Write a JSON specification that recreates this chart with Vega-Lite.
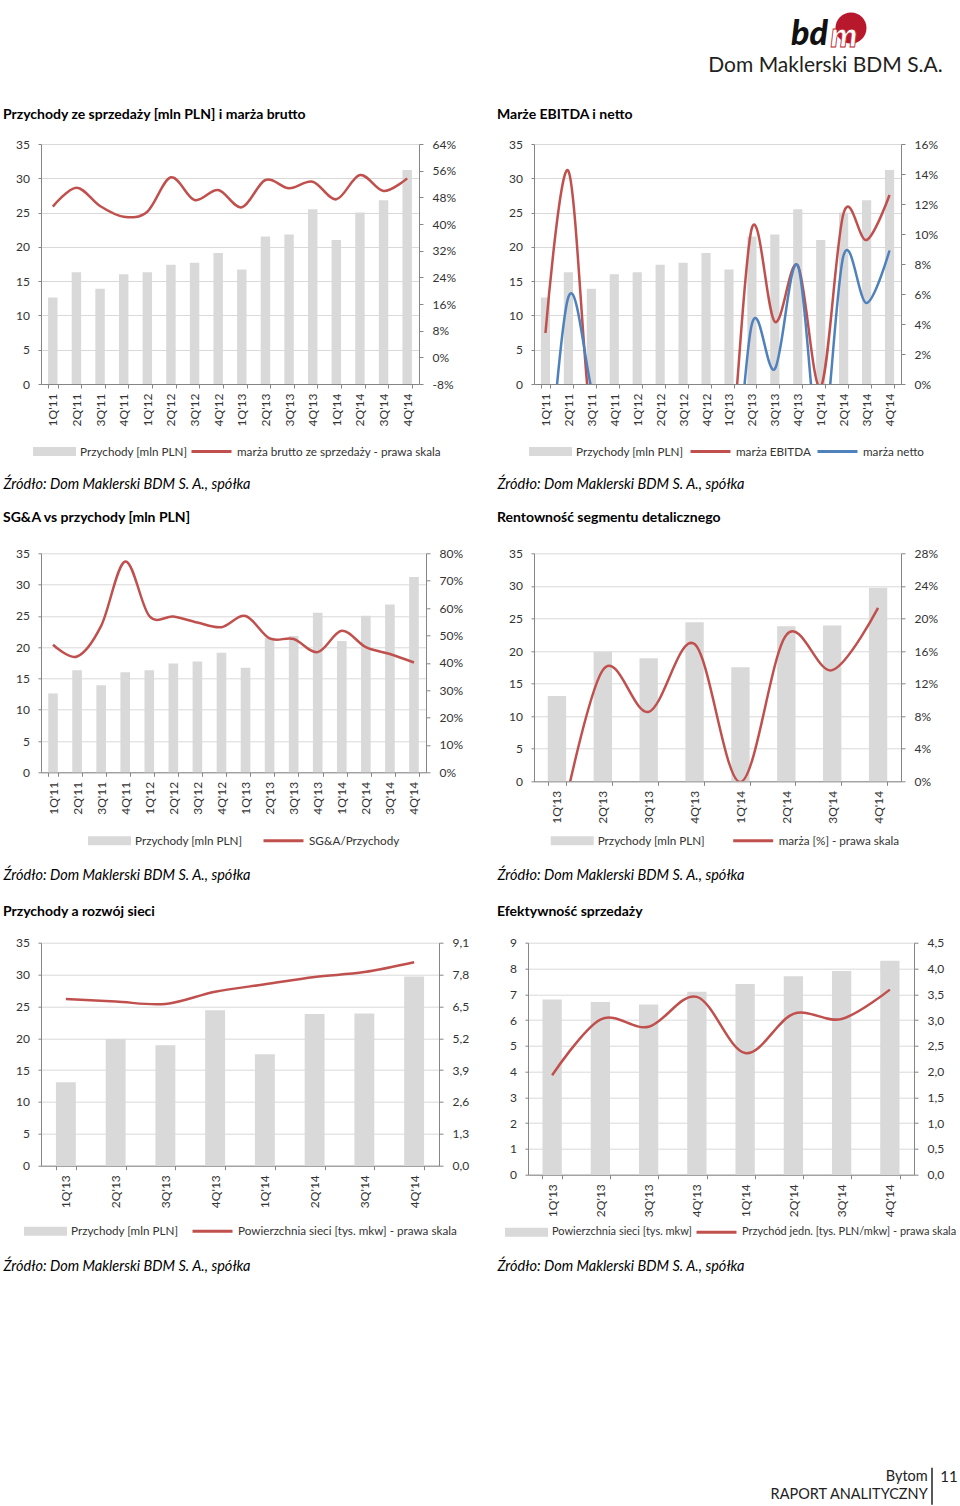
{
  "$schema": "https://vega.github.io/schema/vega-lite/v6.json",
  "padding": {"left": 3, "top": 0, "right": 0, "bottom": 0},
  "background": "white",
  "config": {
    "font": "Lato",
    "view": {"stroke": null},
    "title": {"font": "Lato", "fontSize": 14, "fontWeight": "bold", "color": "#000", "baseline": "alphabetic"},
    "axis": {"labelFont": "Lato", "labelFontSize": 12, "labelColor": "#333", "domainColor": "#868686", "tickColor": "#868686", "gridColor": "#d9d9d9", "titleFont": "Lato", "labelFlush": false, "labelOverlap": false},
    "axisX": {"labelAngle": -90, "tickBand": "extent", "tickSize": 4, "labelPadding": 5, "grid": false, "titleFontSize": 14.5, "titleFontStyle": "italic", "titleFontWeight": "normal", "titleColor": "#000", "titleAlign": "left", "titleBaseline": "alphabetic", "titleAngle": 0},
    "axisLeft": {"tickSize": 3, "labelPadding": 8.5, "grid": true},
    "axisRight": {"tickSize": 4, "labelPadding": 9, "grid": false},
    "legend": {"orient": "none", "direction": "horizontal", "padding": 0, "symbolSize": 1600, "symbolOffset": 0, "labelOffset": 4, "labelFont": "Lato", "labelFontSize": 11.7, "labelColor": "#333", "labelLimit": 0, "gridAlign": "none"}
  },
  "datasets": {
    "q16": [
      {"kw": "1Q'11", "przychody": 12.6, "brutto": 45.2, "marża EBITDA": 3.4, "marża netto": -9, "sga": 46.6},
      {"kw": "2Q'11", "przychody": 16.3, "brutto": 50.9, "marża EBITDA": 14.2, "marża netto": 5.8, "sga": 42.3},
      {"kw": "3Q'11", "przychody": 13.9, "brutto": 45.4, "marża EBITDA": -2.8, "marża netto": -0.3, "sga": 53.5},
      {"kw": "4Q'11", "przychody": 16.0, "brutto": 42.2, "marża EBITDA": -6, "marża netto": -8, "sga": 77.0},
      {"kw": "1Q'12", "przychody": 16.3, "brutto": 43.7, "marża EBITDA": -6, "marża netto": -8, "sga": 57.1},
      {"kw": "2Q'12", "przychody": 17.4, "brutto": 54.0, "marża EBITDA": -6, "marża netto": -8, "sga": 56.9},
      {"kw": "3Q'12", "przychody": 17.7, "brutto": 47.2, "marża EBITDA": -6, "marża netto": -8, "sga": 54.7},
      {"kw": "4Q'12", "przychody": 19.1, "brutto": 50.2, "marża EBITDA": -6, "marża netto": -8, "sga": 53.0},
      {"kw": "1Q'13", "przychody": 16.7, "brutto": 45.0, "marża EBITDA": -5.5, "marża netto": -10.5, "sga": 57.1},
      {"kw": "2Q'13", "przychody": 21.5, "brutto": 53.2, "marża EBITDA": 10.4, "marża netto": 4.0, "sga": 48.9},
      {"kw": "3Q'13", "przychody": 21.8, "brutto": 50.7, "marża EBITDA": 4.15, "marża netto": 1.0, "sga": 48.7},
      {"kw": "4Q'13", "przychody": 25.5, "brutto": 52.7, "marża EBITDA": 7.9, "marża netto": 7.9, "sga": 43.9},
      {"kw": "1Q'14", "przychody": 21.0, "brutto": 47.4, "marża EBITDA": -0.2, "marża netto": -4.5, "sga": 51.7},
      {"kw": "2Q'14", "przychody": 25.0, "brutto": 54.7, "marża EBITDA": 11.4, "marża netto": 8.6, "sga": 45.7},
      {"kw": "3Q'14", "przychody": 26.8, "brutto": 49.9, "marża EBITDA": 9.6, "marża netto": 5.4, "sga": 43.2},
      {"kw": "4Q'14", "przychody": 31.2, "brutto": 53.7, "marża EBITDA": 12.6, "marża netto": 8.9, "sga": 40.1}
    ],
    "q8": [
      {"kw": "1Q'13", "przychody": 13.1, "marza": -7.5, "powierzchnia": 6.8, "jedn": 1.93},
      {"kw": "2Q'13", "przychody": 19.9, "marza": 13.65, "powierzchnia": 6.7, "jedn": 3.01},
      {"kw": "3Q'13", "przychody": 18.9, "marza": 8.53, "powierzchnia": 6.6, "jedn": 2.87},
      {"kw": "4Q'13", "przychody": 24.4, "marza": 16.85, "powierzchnia": 7.1, "jedn": 3.45},
      {"kw": "1Q'14", "przychody": 17.5, "marza": -0.1, "powierzchnia": 7.4, "jedn": 2.36},
      {"kw": "2Q'14", "przychody": 23.8, "marza": 17.96, "powierzchnia": 7.7, "jedn": 3.12},
      {"kw": "3Q'14", "przychody": 23.9, "marza": 13.65, "powierzchnia": 7.9, "jedn": 3.02},
      {"kw": "4Q'14", "przychody": 29.7, "marza": 21.3, "powierzchnia": 8.3, "jedn": 3.59}
    ]
  },
  "spacing": 144,
  "bounds": "flush",
  "resolve": {"scale": {"color": "independent"}, "legend": {"color": "independent"}},
  "vconcat": [
    {
      "hconcat": [
        {"width": 749, "height": 56, "data": {"values": []}, "mark": {"type": "text"}, "encoding": {}},
        {
          "width": 78, "height": 56,
          "data": {"values": [{"part": "bd"}, {"part": "m"}]},
          "title": {"text": "Dom Maklerski BDM S.A.", "orient": "bottom", "anchor": "middle", "frame": "group", "dx": -3.5, "offset": 16, "fontSize": 21, "fontWeight": "normal", "color": "#231f20", "baseline": "alphabetic"},
          "encoding": {"x": {"field": "part", "type": "nominal", "sort": null, "scale": {"type": "band", "domain": ["bd", "m"], "paddingInner": 0, "paddingOuter": 0}, "axis": null}},
          "layer": [
            {"transform": [{"filter": "datum.part === 'm'"}], "mark": {"type": "circle", "size": 960, "color": "#b8182b", "opacity": 1, "xOffset": 2.5}},
            {"transform": [{"filter": "datum.part === 'bd'"}], "mark": {"type": "text", "font": "Lato", "fontSize": 34, "fontWeight": 900, "fontStyle": "italic", "color": "#111", "baseline": "alphabetic", "dy": 17}, "encoding": {"text": {"field": "part"}}},
            {"transform": [{"filter": "datum.part === 'm'"}], "mark": {"type": "text", "font": "Lato", "fontSize": 34, "fontWeight": 900, "fontStyle": "italic", "color": "white", "stroke": "#b8182b", "strokeWidth": 0.8, "baseline": "alphabetic", "dx": -4.5, "dy": 19}, "encoding": {"text": {"field": "part"}}}
          ]
        }
      ],
      "spacing": 0,
      "bounds": "flush",
      "resolve": {"scale": {"color": "independent"}, "legend": {"color": "independent"}}
    },
    {
      "spacing": 409.3,
      "bounds": "flush",
      "resolve": {"scale": {"color": "independent"}, "legend": {"color": "independent"}},
      "vconcat": [
        {
          "spacing": 115,
          "bounds": "flush",
          "resolve": {"scale": {"color": "independent"}, "legend": {"color": "independent"}},
          "hconcat": [
            {
              "width": 378, "height": 240,
              "title": {"text": "Przychody ze sprzedaży [mln PLN] i marża brutto", "anchor": "start", "frame": "group", "dx": -38, "offset": 16},
              "data": {"name": "q16"},
              "encoding": {"x": {"field": "kw", "type": "nominal", "sort": null, "scale": {"paddingInner": 0.6, "paddingOuter": 0.3}, "axis": {"title": "Źródło: Dom Maklerski BDM S. A., spółka", "titleX": -38, "titleY": 104.3}}},
              "layer": [
                {"mark": {"type": "bar"}, "encoding": {
                  "y": {"field": "przychody", "type": "quantitative", "scale": {"domain": [0, 35], "nice": false}, "axis": {"orient": "left", "values": [0, 5, 10, 15, 20, 25, 30, 35], "title": null}},
                  "color": {"datum": "Przychody [mln PLN]", "title": null, "scale": {"domain": ["Przychody [mln PLN]", "marża brutto ze sprzedaży - prawa skala"], "range": ["#d9d9d9", "#c0504d"]},
                    "legend": {"title": null, "legendX": -8, "legendY": 286, "columnPadding": -3,
                      "encode": {"symbols": {"update": {
                        "shape": {"signal": "datum.value === 'Przychody [mln PLN]' ? 'M-1,-0.15H1V0.15H-1Z' : 'M-1,0H1'"},
                        "fill": {"signal": "datum.value === 'Przychody [mln PLN]' ? '#d9d9d9' : 'transparent'"},
                        "stroke": {"signal": "datum.value === 'Przychody [mln PLN]' ? 'transparent' : '#c0504d'"},
                        "strokeWidth": {"value": 3}, "opacity": {"value": 1}}}}}}
                }},
                {"mark": {"type": "line", "interpolate": "cardinal", "tension": 0, "strokeWidth": 2.5, "clip": true}, "encoding": {
                  "y": {"field": "brutto", "type": "quantitative", "scale": {"domain": [-8, 64], "nice": false, "zero": false}, "axis": {"orient": "right", "values": [-8, 0, 8, 16, 24, 32, 40, 48, 56, 64], "labelExpr": "datum.value + '%'", "title": null}},
                  "color": {"datum": "marża brutto ze sprzedaży - prawa skala", "title": null}
                }}
              ],
              "resolve": {"scale": {"y": "independent"}}
            },
            {
              "width": 367, "height": 240,
              "title": {"text": "Marże EBITDA i netto", "anchor": "start", "frame": "group", "dx": -37, "offset": 16},
              "data": {"name": "q16"},
              "encoding": {"x": {"field": "kw", "type": "nominal", "sort": null, "scale": {"paddingInner": 0.6, "paddingOuter": 0.3}, "axis": {"title": "Źródło: Dom Maklerski BDM S. A., spółka", "titleX": -37, "titleY": 104.3}}},
              "layer": [
                {"mark": {"type": "bar"}, "encoding": {
                  "y": {"field": "przychody", "type": "quantitative", "scale": {"domain": [0, 35], "nice": false}, "axis": {"orient": "left", "values": [0, 5, 10, 15, 20, 25, 30, 35], "title": null}},
                  "color": {"datum": "Przychody [mln PLN]", "title": null, "scale": {"domain": ["Przychody [mln PLN]", "marża EBITDA", "marża netto"], "range": ["#d9d9d9", "#c0504d", "#4f81bd"]},
                    "legend": {"title": null, "legendX": -5, "legendY": 286, "columnPadding": 0,
                      "encode": {"symbols": {"update": {
                        "shape": {"signal": "datum.value === 'Przychody [mln PLN]' ? 'M-1,-0.15H1V0.15H-1Z' : 'M-1,0H1'"},
                        "fill": {"signal": "datum.value === 'Przychody [mln PLN]' ? '#d9d9d9' : 'transparent'"},
                        "stroke": {"signal": "datum.value === 'marża netto' ? '#4f81bd' : datum.value === 'marża EBITDA' ? '#c0504d' : 'transparent'"},
                        "strokeWidth": {"value": 3}, "opacity": {"value": 1}}}}}}
                }},
                {"transform": [{"fold": ["marża EBITDA", "marża netto"], "as": ["seria", "wartosc"]}],
                 "mark": {"type": "line", "interpolate": "cardinal", "tension": 0, "strokeWidth": 2.5, "clip": true}, "encoding": {
                  "y": {"field": "wartosc", "type": "quantitative", "scale": {"domain": [0, 16], "nice": false, "zero": false}, "axis": {"orient": "right", "values": [0, 2, 4, 6, 8, 10, 12, 14, 16], "labelExpr": "datum.value + '%'", "title": null}},
                  "color": {"field": "seria", "type": "nominal", "title": null}
                }}
              ],
              "resolve": {"scale": {"y": "independent"}}
            }
          ]
        },
        {
          "spacing": 389.4,
          "bounds": "flush",
          "resolve": {"scale": {"color": "independent"}, "legend": {"color": "independent"}},
          "vconcat": [
            {
              "spacing": 108,
              "bounds": "flush",
              "resolve": {"scale": {"color": "independent"}, "legend": {"color": "independent"}},
              "hconcat": [
                {
                  "width": 385, "height": 219,
                  "title": {"text": "SG&A vs przychody [mln PLN]", "anchor": "start", "frame": "group", "dx": -38, "offset": 22.5},
                  "data": {"name": "q16"},
                  "encoding": {"x": {"field": "kw", "type": "nominal", "sort": null, "scale": {"paddingInner": 0.6, "paddingOuter": 0.3}, "axis": {"title": "Źródło: Dom Maklerski BDM S. A., spółka", "titleX": -38, "titleY": 106.8}}},
                  "layer": [
                    {"mark": {"type": "bar"}, "encoding": {
                      "y": {"field": "przychody", "type": "quantitative", "scale": {"domain": [0, 35], "nice": false}, "axis": {"orient": "left", "values": [0, 5, 10, 15, 20, 25, 30, 35], "title": null}},
                      "color": {"datum": "Przychody [mln PLN]", "title": null, "scale": {"domain": ["Przychody [mln PLN]", "SG&A/Przychody"], "range": ["#d9d9d9", "#c0504d"]},
                        "legend": {"title": null, "legendX": 47, "legendY": 266, "columnPadding": 14,
                          "encode": {"symbols": {"update": {
                            "shape": {"signal": "datum.value === 'Przychody [mln PLN]' ? 'M-1,-0.15H1V0.15H-1Z' : 'M-1,0H1'"},
                            "fill": {"signal": "datum.value === 'Przychody [mln PLN]' ? '#d9d9d9' : 'transparent'"},
                            "stroke": {"signal": "datum.value === 'Przychody [mln PLN]' ? 'transparent' : '#c0504d'"},
                            "strokeWidth": {"value": 3}, "opacity": {"value": 1}}}}}}
                    }},
                    {"mark": {"type": "line", "interpolate": "cardinal", "tension": 0, "strokeWidth": 2.5, "clip": true}, "encoding": {
                      "y": {"field": "sga", "type": "quantitative", "scale": {"domain": [0, 80], "nice": false, "zero": false}, "axis": {"orient": "right", "values": [0, 10, 20, 30, 40, 50, 60, 70, 80], "labelExpr": "datum.value + '%'", "title": null}},
                      "color": {"datum": "SG&A/Przychody", "title": null}
                    }}
                  ],
                  "resolve": {"scale": {"y": "independent"}}
                },
                {
                  "width": 367, "height": 228,
                  "title": {"text": "Rentowność segmentu detalicznego", "anchor": "start", "frame": "group", "dx": -37, "offset": 22.5},
                  "data": {"name": "q8"},
                  "encoding": {"x": {"field": "kw", "type": "nominal", "sort": null, "scale": {"paddingInner": 0.6, "paddingOuter": 0.3}, "axis": {"title": "Źródło: Dom Maklerski BDM S. A., spółka", "titleX": -37, "titleY": 98.2}}},
                  "layer": [
                    {"mark": {"type": "bar"}, "encoding": {
                      "y": {"field": "przychody", "type": "quantitative", "scale": {"domain": [0, 35], "nice": false}, "axis": {"orient": "left", "values": [0, 5, 10, 15, 20, 25, 30, 35], "title": null}},
                      "color": {"datum": "Przychody [mln  PLN]", "title": null, "scale": {"domain": ["Przychody [mln  PLN]", "marża [%] - prawa skala"], "range": ["#d9d9d9", "#c0504d"]},
                        "legend": {"title": null, "legendX": 16.7, "legendY": 266, "columnPadding": 18,
                          "encode": {"symbols": {"update": {
                            "shape": {"signal": "datum.value === 'Przychody [mln  PLN]' ? 'M-1,-0.15H1V0.15H-1Z' : 'M-1,0H1'"},
                            "fill": {"signal": "datum.value === 'Przychody [mln  PLN]' ? '#d9d9d9' : 'transparent'"},
                            "stroke": {"signal": "datum.value === 'Przychody [mln  PLN]' ? 'transparent' : '#c0504d'"},
                            "strokeWidth": {"value": 3}, "opacity": {"value": 1}}}}}}
                    }},
                    {"mark": {"type": "line", "interpolate": "cardinal", "tension": 0, "strokeWidth": 2.5, "clip": true}, "encoding": {
                      "y": {"field": "marza", "type": "quantitative", "scale": {"domain": [0, 28], "nice": false, "zero": false}, "axis": {"orient": "right", "values": [0, 4, 8, 12, 16, 20, 24, 28], "labelExpr": "datum.value + '%'", "title": null}},
                      "color": {"datum": "marża [%] - prawa skala", "title": null}
                    }}
                  ],
                  "resolve": {"scale": {"y": "independent"}}
                }
              ]
            },
            {
              "spacing": 525,
              "bounds": "flush",
              "resolve": {"scale": {"color": "independent"}, "legend": {"color": "independent"}},
              "vconcat": [
                {
                  "spacing": 89,
                  "bounds": "flush",
                  "resolve": {"scale": {"color": "independent"}, "legend": {"color": "independent"}},
                  "hconcat": [
                    {
                      "width": 398, "height": 223,
                      "title": {"text": "Przychody a rozwój sieci", "anchor": "start", "frame": "group", "dx": -38, "offset": 17.5},
                      "data": {"name": "q8"},
                      "encoding": {"x": {"field": "kw", "type": "nominal", "sort": null, "scale": {"paddingInner": 0.6, "paddingOuter": 0.3}, "axis": {"title": "Źródło: Dom Maklerski BDM S. A., spółka", "titleX": -38, "titleY": 104.3}}},
                      "layer": [
                        {"mark": {"type": "bar"}, "encoding": {
                          "y": {"field": "przychody", "type": "quantitative", "scale": {"domain": [0, 35], "nice": false}, "axis": {"orient": "left", "values": [0, 5, 10, 15, 20, 25, 30, 35], "title": null}},
                          "color": {"datum": "Przychody [mln PLN]", "title": null, "scale": {"domain": ["Przychody [mln PLN]", "Powierzchnia sieci [tys. mkw] - prawa skala"], "range": ["#d9d9d9", "#c0504d"]},
                            "legend": {"title": null, "legendX": -17, "legendY": 267, "columnPadding": 7,
                              "encode": {"symbols": {"update": {
                                "shape": {"signal": "datum.value === 'Przychody [mln PLN]' ? 'M-1,-0.15H1V0.15H-1Z' : 'M-1,0H1'"},
                                "fill": {"signal": "datum.value === 'Przychody [mln PLN]' ? '#d9d9d9' : 'transparent'"},
                                "stroke": {"signal": "datum.value === 'Przychody [mln PLN]' ? 'transparent' : '#c0504d'"},
                                "strokeWidth": {"value": 3}, "opacity": {"value": 1}}}}}}
                        }},
                        {"mark": {"type": "line", "interpolate": "cardinal", "tension": 0, "strokeWidth": 2.5, "clip": true}, "encoding": {
                          "y": {"field": "powierzchnia", "type": "quantitative", "scale": {"domain": [0, 9.1], "nice": false, "zero": false}, "axis": {"orient": "right", "values": [0, 1.3, 2.6, 3.9, 5.2, 6.5, 7.8, 9.1], "labelExpr": "replace(format(datum.value, '.1f'), '.', ',')", "title": null}},
                          "color": {"datum": "Powierzchnia sieci [tys. mkw] - prawa skala", "title": null}
                        }}
                      ],
                      "resolve": {"scale": {"y": "independent"}}
                    },
                    {
                      "width": 386, "height": 232,
                      "title": {"text": "Efektywność sprzedaży", "anchor": "start", "frame": "group", "dx": -31, "offset": 17.5},
                      "data": {"name": "q8"},
                      "encoding": {"x": {"field": "kw", "type": "nominal", "sort": null, "scale": {"paddingInner": 0.6, "paddingOuter": 0.3}, "axis": {"title": "Źródło: Dom Maklerski BDM S. A., spółka", "titleX": -31, "titleY": 95.3}}},
                      "layer": [
                        {"mark": {"type": "bar"}, "encoding": {
                          "y": {"field": "powierzchnia", "type": "quantitative", "scale": {"domain": [0, 9], "nice": false}, "axis": {"orient": "left", "values": [0, 1, 2, 3, 4, 5, 6, 7, 8, 9], "title": null}},
                          "color": {"datum": "Powierzchnia sieci [tys. mkw]", "title": null, "scale": {"domain": ["Powierzchnia sieci [tys. mkw]", "Przychód jedn. [tys. PLN/mkw] - prawa skala"], "range": ["#d9d9d9", "#c0504d"]},
                            "legend": {"title": null, "legendX": -23, "legendY": 268, "columnPadding": -2, "labelFontSize": 11,
                              "encode": {"symbols": {"update": {
                                "shape": {"signal": "datum.value === 'Powierzchnia sieci [tys. mkw]' ? 'M-1,-0.15H1V0.15H-1Z' : 'M-1,0H1'"},
                                "fill": {"signal": "datum.value === 'Powierzchnia sieci [tys. mkw]' ? '#d9d9d9' : 'transparent'"},
                                "stroke": {"signal": "datum.value === 'Powierzchnia sieci [tys. mkw]' ? 'transparent' : '#c0504d'"},
                                "strokeWidth": {"value": 3}, "opacity": {"value": 1}}}}}}
                        }},
                        {"mark": {"type": "line", "interpolate": "cardinal", "tension": 0, "strokeWidth": 2.5, "clip": true}, "encoding": {
                          "y": {"field": "jedn", "type": "quantitative", "scale": {"domain": [0, 4.5], "nice": false, "zero": false}, "axis": {"orient": "right", "values": [0, 0.5, 1, 1.5, 2, 2.5, 3, 3.5, 4, 4.5], "labelExpr": "replace(format(datum.value, '.1f'), '.', ',')", "title": null}},
                          "color": {"datum": "Przychód jedn. [tys. PLN/mkw] - prawa skala", "title": null}
                        }}
                      ],
                      "resolve": {"scale": {"y": "independent"}}
                    }
                  ]
                },
                {
                  "spacing": 0,
                  "bounds": "flush",
                  "resolve": {"scale": {"color": "independent"}, "legend": {"color": "independent"}},
                  "hconcat": [
                    {
                      "width": 890.7, "height": 37,
                      "data": {"values": [{"line": "Bytom"}, {"line": "RAPORT ANALITYCZNY"}]},
                      "mark": {"type": "text", "align": "right", "baseline": "middle", "fontSize": 14.5, "color": "#222", "dx": -4},
                      "encoding": {
                        "y": {"field": "line", "type": "nominal", "sort": null, "scale": {"type": "band", "paddingInner": 0, "paddingOuter": 0}, "axis": null},
                        "x": {"value": "width"},
                        "text": {"field": "line"}
                      }
                    },
                    {
                      "width": 28.3, "height": 37,
                      "data": {"values": [{"line": "Bytom", "strona": "11"}]},
                      "encoding": {"x": {"datum": 0, "type": "quantitative", "scale": {"domain": [0, 1]}, "axis": null}},
                      "layer": [
                        {"mark": {"type": "rule", "color": "#222", "strokeWidth": 1.5}},
                        {"mark": {"type": "text", "fontSize": 15, "color": "#222", "baseline": "middle", "align": "center"},
                         "encoding": {
                           "x": {"datum": 0.6, "type": "quantitative"},
                           "y": {"field": "line", "type": "nominal", "scale": {"type": "band", "domain": ["Bytom", "RAPORT ANALITYCZNY"], "paddingInner": 0, "paddingOuter": 0}, "axis": null},
                           "text": {"field": "strona"}
                         }}
                      ]
                    }
                  ]
                }
              ]
            }
          ]
        }
      ]
    }
  ]
}
